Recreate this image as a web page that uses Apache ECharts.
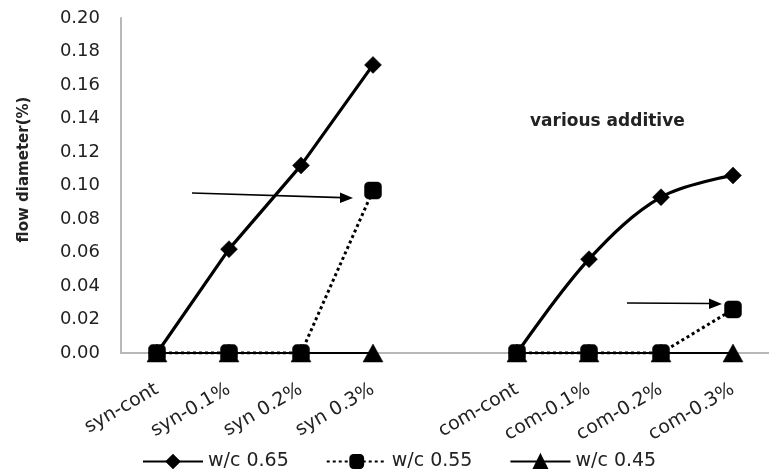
<!DOCTYPE html>
<html>
<head>
<meta charset="utf-8">
<script src="https://cdn.jsdelivr.net/npm/echarts@6/dist/echarts.min.js"></script>
<style>
  html, body { margin: 0; padding: 0; background: #fff; }
  #chart { width: 769px; height: 474px; }
</style>
</head>
<body>
<div id="chart"></div>
<script>
// categories (empty slot separates the two groups)
var categories = ["syn-cont", "syn-0.1%", "syn 0.2%", "syn 0.3%", "", "com-cont", "com-0.1%", "com-0.2%", "com-0.3%"];

// w/c 0.65, split so that only the com part is smoothed
var wc065Syn = [0, 0.062, 0.112, 0.172, null, null, null, null, null];
var wc065Com = [null, null, null, null, null, 0, 0.056, 0.093, 0.106];
var wc055 = [0, 0, 0, 0.097, null, 0, 0, 0, 0.026];
var wc045 = [0, 0, 0, 0, null, 0, 0, 0, 0];

var yTicks = { min: 0, max: 0.2, step: 0.02 };

var font = "'DejaVu Sans', sans-serif";

// filled black markers
var markStyle = { color: "#000", borderColor: "#000", borderWidth: 0.5, opacity: 1 };

var chart = echarts.init(document.getElementById("chart"));

chart.setOption({
  animation: false,
  textStyle: { fontFamily: font },
  grid: {
    left: 121,
    right: -13,
    top: 18,
    bottom: 121
  },
  legend: {
    top: 447,
    left: 137,
    itemWidth: 60,
    itemHeight: 16,
    itemGap: 37,
    data: ["w/c 0.65", "w/c 0.55", "w/c 0.45"],
    textStyle: { fontSize: 19, color: "#222", fontFamily: font }
  },
  xAxis: {
    type: "category",
    data: categories,
    boundaryGap: true,
    axisLine: { lineStyle: { color: "#b8b8b8", width: 2 } },
    axisTick: { show: false },
    axisLabel: {
      interval: 0,
      rotate: 30,
      fontSize: 19,
      color: "#222",
      margin: 35
    }
  },
  yAxis: {
    type: "value",
    min: yTicks.min,
    max: yTicks.max,
    interval: yTicks.step,
    name: "flow diameter(%)",
    nameLocation: "middle",
    nameGap: 89,
    nameTextStyle: { fontSize: 15, fontWeight: "bold", color: "#222", padding: [0, 0, 0, 32] },
    splitLine: { show: false },
    axisTick: { show: false },
    axisLine: { show: true, lineStyle: { color: "#b8b8b8", width: 2 } },
    axisLabel: {
      fontSize: 18,
      color: "#222",
      margin: 21,
      formatter: function (v) { return v.toFixed(2); }
    }
  },
  graphic: [
    {
      type: "text",
      left: 530,
      top: 113,
      style: { text: "various additive", fontSize: 17, fontWeight: "bold", fill: "#222", fontFamily: font }
    },
    { type: "line", shape: { x1: 192, y1: 193, x2: 342, y2: 197.6 }, style: { stroke: "#000", lineWidth: 1.6 } },
    { type: "polygon", shape: { points: [[353, 198], [340, 192.6], [340, 203]] }, style: { fill: "#000" } },
    { type: "line", shape: { x1: 627, y1: 303, x2: 710, y2: 303.5 }, style: { stroke: "#000", lineWidth: 1.6 } },
    { type: "polygon", shape: { points: [[722, 304], [709, 298.5], [709, 309]] }, style: { fill: "#000" } }
  ],
  series: [
    {
      name: "w/c 0.45",
      type: "line",
      data: wc045,
      z: 2,
      symbol: "triangle",
      symbolSize: [20, 18],
      itemStyle: markStyle,
      lineStyle: { color: "#000", width: 2 }
    },
    {
      name: "w/c 0.65",
      type: "line",
      data: wc065Syn,
      z: 3,
      symbol: "diamond",
      symbolSize: 17,
      itemStyle: markStyle,
      lineStyle: { color: "#000", width: 3.2 }
    },
    {
      name: "w/c 0.65",
      type: "line",
      data: wc065Com,
      z: 3,
      smooth: 0.35,
      symbol: "diamond",
      symbolSize: 17,
      itemStyle: markStyle,
      lineStyle: { color: "#000", width: 3.2 }
    },
    {
      name: "w/c 0.55",
      type: "line",
      data: wc055,
      z: 4,
      symbol: "roundRect",
      symbolSize: 17,
      itemStyle: markStyle,
      lineStyle: { color: "#000", width: 3, type: [3, 3] }
    }
  ]
});
</script>
</body>
</html>
